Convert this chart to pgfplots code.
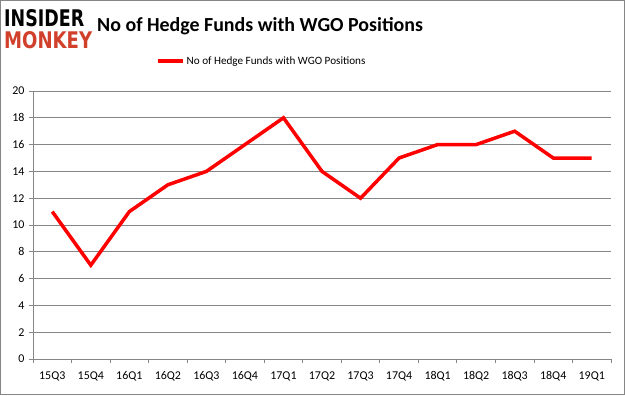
\documentclass[border=0pt]{standalone}
\usepackage{fontspec}
\setmainfont{Carlito}
\newfontfamily\logofont{DejaVu Sans}
\usepackage{graphicx}
\usepackage{pgfplots}
\pgfplotsset{compat=1.18}
\definecolor{gridgray}{HTML}{868686}
\definecolor{logored}{HTML}{D0402B}
\begin{document}
\begin{tikzpicture}[x=1bp,y=1bp]
\draw[gridgray, line width=1bp] (0.5,0.5) rectangle (624.5,394.5);
% logo
\node[anchor=north west, inner sep=0pt] at (4,386) {\resizebox{80bp}{17bp}{\logofont\bfseries INSIDER}};
\node[anchor=north west, inner sep=0pt] at (4,364) {\resizebox{88bp}{17bp}{\logofont\bfseries\color{logored}MONKEY}};
% title
\node[anchor=west, inner sep=0pt] at (97,369) {\fontsize{20}{23}\selectfont\bfseries No of Hedge Funds with WGO Positions};
\begin{axis}[
  at={(33bp,36bp)}, anchor=south west,
  scale only axis, width=578bp, height=268bp,
  xmin=-0.5, xmax=14.5, ymin=0, ymax=20,
  ytick={0,2,...,20},
  xtick={0,...,14},
  xticklabels={15Q3,15Q4,16Q1,16Q2,16Q3,16Q4,17Q1,17Q2,17Q3,17Q4,18Q1,18Q2,18Q3,18Q4,19Q1},
  minor xtick={-0.5,0.5,...,14.5},
  major x tick style={draw=none},
  minor x tick style={gridgray, line width=0.8bp},
  tick align=outside,
  minor tick length=4bp,
  major tick length=4bp,
  ytick style={gridgray, line width=0.8bp},
  axis x line*=bottom, axis y line*=left,
  axis line style={gridgray, line width=0.8bp, -},
  ymajorgrids, grid style={gridgray, line width=0.8bp},
  tick label style={font=\fontsize{12}{14}\selectfont, text=black},
  /pgf/number format/assume math mode=true,
  xticklabel style={yshift=-5bp},
  yticklabel style={xshift=-1bp},
  legend style={at={(0,1)}, anchor=west, xshift=120bp, yshift=30bp, draw=none, fill=none, font=\fontsize{11.2}{13}\selectfont, legend cell align=left},
  legend image code/.code={\draw[#1, line width=3.5bp] (0bp,0bp) -- (25bp,0bp);},
  clip=false,
]
\addplot[color=red, line width=3.5bp] coordinates {
(0,11) (1,7) (2,11) (3,13) (4,14) (5,16) (6,18) (7,14) (8,12) (9,15) (10,16) (11,16) (12,17) (13,15) (14,15)
};
\addlegendentry{No of Hedge Funds with WGO Positions}
\end{axis}
\end{tikzpicture}
\end{document}
